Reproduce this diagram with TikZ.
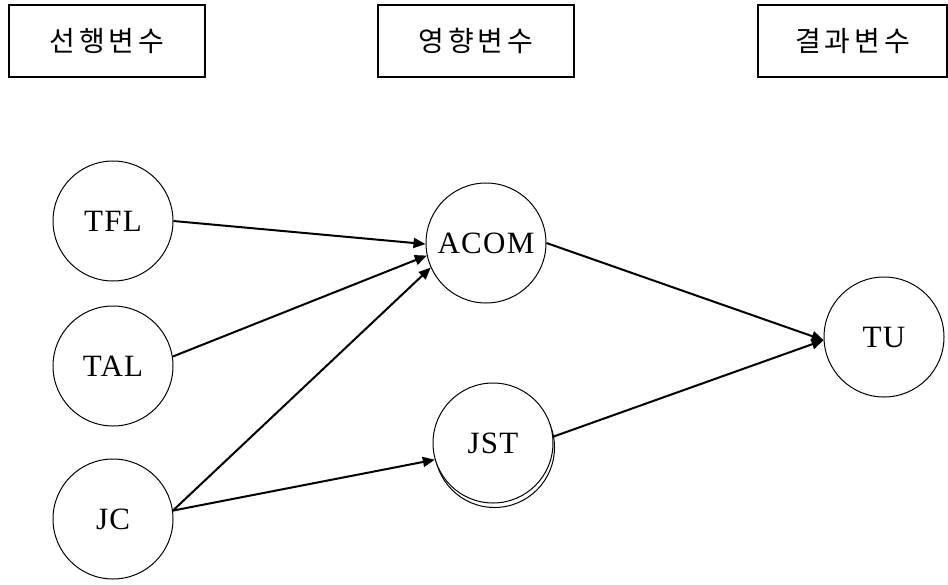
\documentclass[tikz,border=0pt]{standalone}
\usepackage{fontspec}
\setmainfont{Liberation Serif}
\newfontfamily\krfont[LetterSpace=14]{Noto Sans CJK KR}
\newfontfamily\latfont[LetterSpace=4]{Liberation Serif}
\usetikzlibrary{arrows.meta}
\tikzset{
  var/.style={circle, draw, line width=1pt, minimum size=120pt, inner sep=0pt, font=\fontsize{31}{34}\selectfont\latfont},
  hdr/.style={draw, line width=1.2pt, inner sep=0pt, font=\fontsize{28}{32}\selectfont\krfont},
  conn/.style={line width=2pt, -{Triangle[length=12pt,width=10pt]}}
}
\begin{document}
\begin{tikzpicture}[x=1pt,y=-1pt]
\useasboundingbox (0,0) rectangle (948,584);
% header boxes
\node[hdr, minimum width=196pt, minimum height=72pt] (h1) at (107,41) {선행변수};
\node[hdr, minimum width=196pt, minimum height=72pt] (h2) at (476,41) {영향변수};
\node[hdr, minimum width=189pt, minimum height=72pt] (h3) at (852.5,41) {결과변수};
% variables
\node[var] (tfl) at (113,221) {TFL};
\node[var] (tal) at (113,366) {TAL};
\node[var] (jc) at (113,519) {JC};
\node[var] (acom) at (486,243) {ACOM};
\draw[line width=1pt] (494.5,447.5) circle[radius=60pt];
\node[var, fill=white] (jst) at (493,443) {JST};
\node[var] (tu) at (884,337) {TU};
% connectors
\draw[conn] (tfl.east) -- (acom.181);
\draw[conn] (tal.9) -- (acom.192);
\draw[conn] (jc.8) -- (acom.204);
\draw[conn] (jc.8) -- (jst.196);
\draw[conn] (acom.east) -- (tu.183);
\draw[conn] (jst.6) -- (tu.183);
\end{tikzpicture}
\end{document}
